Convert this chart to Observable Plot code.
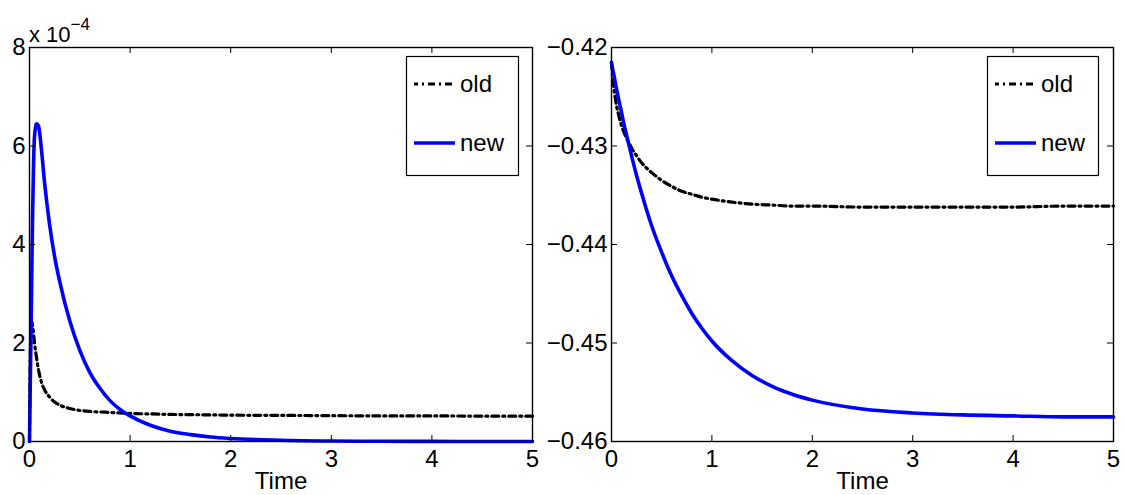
<!DOCTYPE html>
<html><head><meta charset="utf-8">
<script src="https://cdn.jsdelivr.net/npm/d3@7"></script>
<script src="https://cdn.jsdelivr.net/npm/@observablehq/plot@0.6"></script>
<style>
body{margin:0;background:#fff}
#chart{position:relative;width:1125px;height:495px;font-family:"Liberation Sans",Arial,sans-serif}
#chart svg.panel{position:absolute;top:0}
#overlay{position:absolute;left:0;top:0;pointer-events:none}
</style></head><body><div id="chart"></div>
<script>
// Shared time samples
const time = [0, 0.01, 0.02, 0.03, 0.04, 0.05, 0.07, 0.09, 0.12, 0.15, 0.2, 0.25, 0.3, 0.4, 0.5, 0.6, 0.7, 0.8, 0.9, 1.0, 1.2, 1.4, 1.6, 1.8, 2.0, 2.5, 3, 3.5, 4, 4.5, 5];
// Left panel values, in units of 1e-4
const leftOldE4 = [0, 2.0, 2.45, 2.35, 2.2, 2.0, 1.7, 1.45, 1.2, 1.05, 0.9, 0.8, 0.74, 0.67, 0.63, 0.61, 0.6, 0.59, 0.58, 0.57, 0.56, 0.55, 0.545, 0.54, 0.535, 0.53, 0.525, 0.52, 0.52, 0.515, 0.515];
const leftNewE4 = [0, 1.5, 3.0, 4.5, 5.6, 6.2, 6.45, 6.4, 5.9, 5.25, 4.4, 3.75, 3.25, 2.45, 1.85, 1.4, 1.08, 0.83, 0.65, 0.52, 0.33, 0.21, 0.14, 0.09, 0.06, 0.025, 0.01, 0.005, 0.002, 0.001, 0];
// Right panel values
const rightOld = [-0.4215, -0.4228, -0.4238, -0.4246, -0.4253, -0.4259, -0.4268, -0.4276, -0.4285, -0.4292, -0.4302, -0.4310, -0.4317, -0.4327, -0.4335, -0.4341, -0.4346, -0.4349, -0.4352, -0.4354, -0.4357, -0.4359, -0.4360, -0.4361, -0.4361, -0.4362, -0.4362, -0.4362, -0.4362, -0.4361, -0.4361];
const rightNew = [-0.4215, -0.4221, -0.4226, -0.4231, -0.4237, -0.4242, -0.4252, -0.4261, -0.4276, -0.4289, -0.4310, -0.4330, -0.4348, -0.4381, -0.4408, -0.4432, -0.4452, -0.4470, -0.4485, -0.4498, -0.4518, -0.4533, -0.4544, -0.4552, -0.4558, -0.4567, -0.4571, -0.4573, -0.4574, -0.4575, -0.4575];
// Tick labels
const xTicks = [0, 1, 2, 3, 4, 5];
const leftYTicks = [0, 2, 4, 6, 8];
const rightYTicks = [-0.46, -0.45, -0.44, -0.43, -0.42];
const seriesNames = ["old", "new"];
const xLabel = "Time";

const FONT = '"Liberation Sans", Arial, sans-serif';
const MT = 47, MB = 54, H = 495;
const plotH = H - MT - MB;
const DASH = "7,4,2,4";

function panel({oldVals, newVals, yDomain, yTicks, yFormat, width, marginLeft, marginRight}) {
  const plotW = width - marginLeft - marginRight;
  const dOld = time.map((t, i) => ({t, v: oldVals[i]}));
  const dNew = time.map((t, i) => ({t, v: newVals[i]}));
  const svg = Plot.plot({
    width, height: H, marginTop: MT, marginBottom: MB, marginLeft, marginRight,
    x: {domain: [0, 5]},
    y: {domain: yDomain},
    style: {fontFamily: FONT, fontSize: "24px", color: "#000", background: "transparent", overflow: "visible"},
    marks: [
      Plot.line(dOld, {x: "t", y: "v", stroke: "#000", strokeWidth: 3.2, strokeDasharray: DASH, curve: "monotone-x"}),
      Plot.line(dNew, {x: "t", y: "v", stroke: "#0000ff", strokeWidth: 3.6, curve: "monotone-x"}),
      Plot.frame({stroke: "#000", strokeWidth: 1.4}),
      Plot.tickX(xTicks, {x: d => d, insetTop: plotH - 6, stroke: "#000"}),
      Plot.tickX(xTicks, {x: d => d, insetBottom: plotH - 6, stroke: "#000"}),
      Plot.tickY(yTicks, {y: d => d, insetLeft: plotW - 6, stroke: "#000"}),
      Plot.tickY(yTicks, {y: d => d, insetRight: plotW - 6, stroke: "#000"}),
      Plot.axisX(xTicks, {tickSize: 0, tickPadding: 8, fontSize: 24, label: null}),
      Plot.axisY(yTicks, {tickSize: 0, tickPadding: 4, fontSize: 24, tickFormat: yFormat, label: null}),
      Plot.text([xLabel], {text: d => d, frameAnchor: "bottom", dy: 30, lineAnchor: "top", fontSize: 24})
    ]
  });
  svg.classList.add("panel");
  return svg;
}

const chart = document.getElementById("chart");
const left = panel({oldVals: leftOldE4, newVals: leftNewE4, yDomain: [0, 8], yTicks: leftYTicks,
  yFormat: d3.format("d"), width: 540, marginLeft: 29, marginRight: 8});
left.style.left = "0px";
const right = panel({oldVals: rightOld, newVals: rightNew, yDomain: [-0.46, -0.42], yTicks: rightYTicks,
  yFormat: d3.format(".2f"), width: 585, marginLeft: 71, marginRight: 12});
right.style.left = "540px";
chart.appendChild(left);
chart.appendChild(right);

// Overlay: exponent label and legends
const ov = d3.select(chart).append("svg").attr("id", "overlay").attr("width", 1125).attr("height", 495)
  .style("font-family", FONT);
const expo = ov.append("text").attr("x", 29).attr("y", 42).attr("font-size", 22).text("x 10");
expo.append("tspan").attr("dy", -12).attr("font-size", 17).text("\u22124");

function legend(x0, x1) {
  const g = ov.append("g");
  g.append("rect").attr("x", x0 + 0.5).attr("y", 56.5).attr("width", x1 - x0).attr("height", 119)
    .attr("fill", "#fff").attr("stroke", "#000").attr("stroke-width", 1.2);
  const ys = [84, 143];
  seriesNames.forEach((name, i) => {
    g.append("line").attr("x1", x0 + 8).attr("x2", x0 + 49).attr("y1", ys[i]).attr("y2", ys[i])
      .attr("stroke", i === 0 ? "#000" : "#0000ff").attr("stroke-width", i === 0 ? 3.2 : 3.6)
      .attr("stroke-dasharray", i === 0 ? DASH : null)
      .attr("stroke-dashoffset", i === 0 ? 3 : null);
    g.append("text").attr("x", x0 + 54).attr("y", ys[i]).attr("dy", "0.35em")
      .attr("font-size", 24).text(name);
  });
}
legend(406, 518);
legend(987, 1098);
</script></body></html>
